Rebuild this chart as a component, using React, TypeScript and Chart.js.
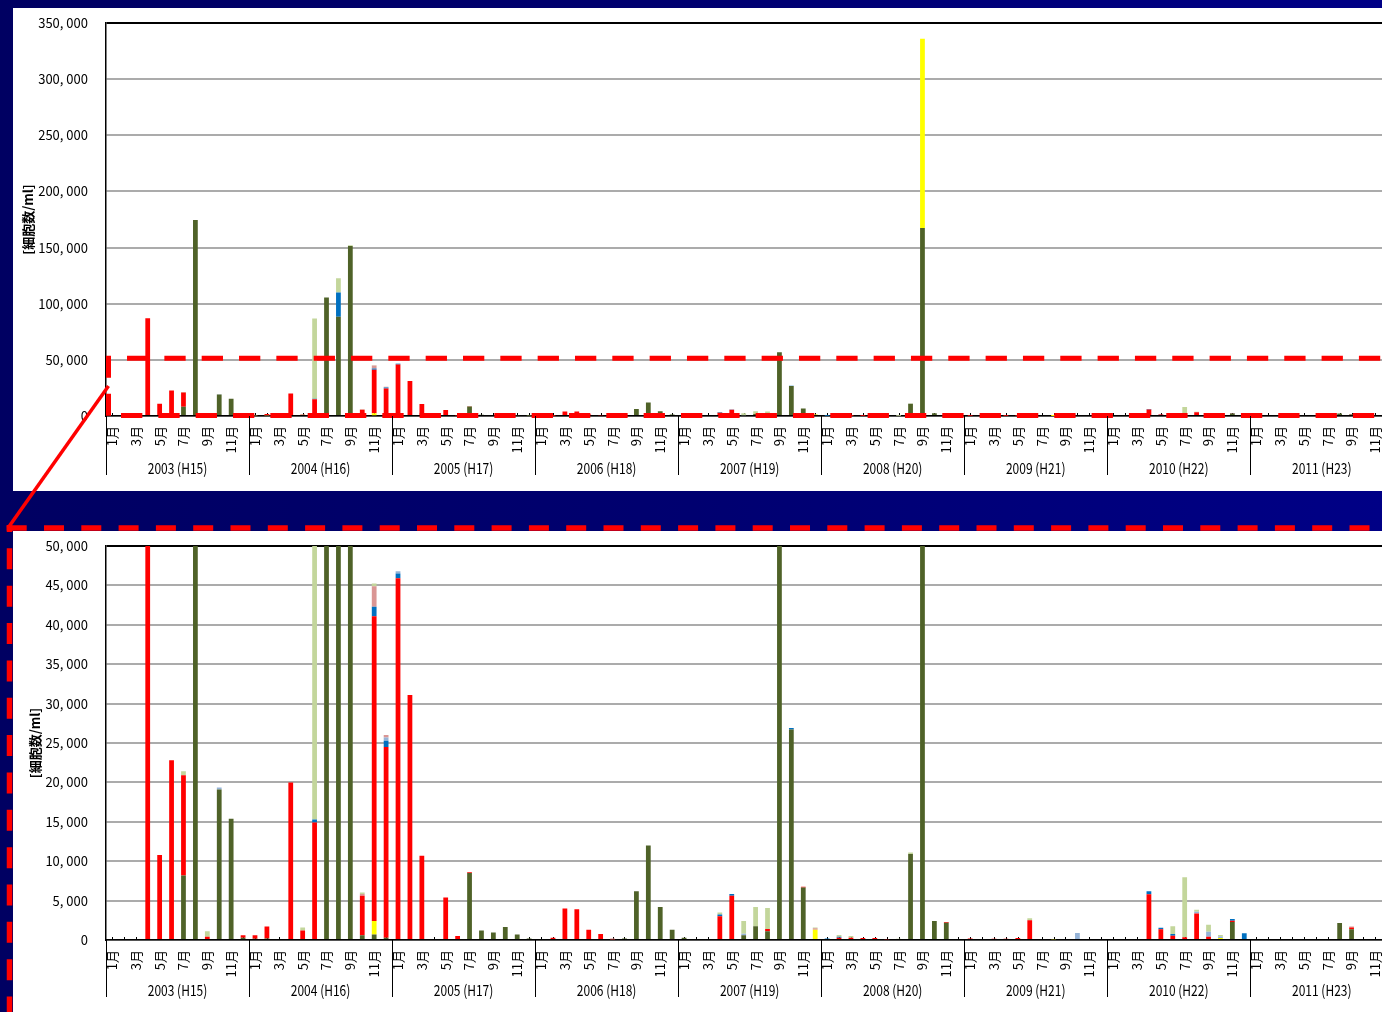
import React, { useEffect, useRef } from 'react';
import { Chart, registerables } from 'chart.js';

Chart.register(...registerables);

// ---------- data ----------
const YEARS = ['2003 (H15)', '2004 (H16)', '2005 (H17)', '2006 (H18)', '2007 (H19)', '2008 (H20)', '2009 (H21)', '2010 (H22)', '2011 (H23)'];
const MONTHS = ['1月', '2月', '3月', '4月', '5月', '6月', '7月', '8月', '9月', '10月', '11月', '12月'];
const CATEGORIES = YEARS.flatMap((y) => MONTHS.map((m) => `${y.slice(0, 4)}年${m}`));

const Y_TITLE = '[細胞数/ml]';
const TOP_MAX = 350000;
const TOP_STEP = 50000;
const ZOOM_MAX = 50000;
const ZOOM_STEP = 5000;
const THRESHOLD = 50000;

// one row per year, Jan..Dec  (cells/ml)
const DARK_GREEN = [
  0, 0, 0, 0, 0, 0, 8200, 174500, 0, 19100, 15400, 300,
  150, 200, 0, 0, 0, 0, 105500, 88500, 151500, 600, 700, 300,
  0, 0, 0, 0, 0, 0, 8500, 1200, 950, 1650, 700, 200,
  0, 0, 0, 0, 0, 0, 0, 200, 6200, 12000, 4200, 1300,
  300, 0, 0, 0, 0, 600, 1750, 1100, 56700, 26700, 6650, 0,
  0, 0, 0, 0, 0, 0, 0, 10900, 167500, 2400, 2200, 0,
  0, 0, 0, 0, 0, 0, 0, 0, 0, 0, 0, 0,
  0, 0, 0, 0, 0, 0, 0, 0, 0, 0, 2300, 0,
  0, 0, 0, 0, 0, 0, 0, 2150, 1350, 0, 0, 0,
];
const YELLOW = [
  0, 0, 0, 0, 0, 0, 0, 0, 0, 0, 0, 0,
  0, 0, 0, 0, 0, 0, 0, 0, 0, 0, 1700, 0,
  0, 0, 0, 0, 0, 0, 0, 0, 0, 0, 0, 0,
  0, 0, 0, 0, 0, 0, 0, 0, 0, 0, 0, 0,
  0, 0, 0, 0, 0, 0, 0, 0, 0, 0, 0, 1300,
  0, 0, 0, 0, 0, 0, 0, 0, 168500, 0, 0, 0,
  0, 0, 0, 0, 0, 0, 0, 100, 0, 0, 0, 0,
  0, 0, 0, 0, 0, 0, 0, 0, 0, 250, 0, 0,
  0, 0, 0, 0, 0, 0, 0, 0, 0, 0, 0, 0,
];
const RED = [
  0, 0, 0, 87000, 10800, 22800, 12700, 0, 400, 0, 0, 300,
  450, 1500, 0, 20000, 1200, 14900, 0, 0, 0, 5000, 38700, 24200,
  45900, 31100, 10700, 0, 5400, 500, 100, 0, 0, 0, 0, 0,
  0, 300, 4000, 3900, 1300, 750, 100, 0, 0, 0, 0, 0,
  0, 0, 0, 3000, 5600, 0, 0, 300, 0, 0, 100, 0,
  0, 300, 300, 250, 250, 100, 0, 0, 0, 0, 100, 0,
  200, 0, 150, 150, 250, 2500, 0, 0, 0, 0, 0, 0,
  0, 0, 0, 5800, 1350, 550, 350, 3350, 400, 0, 150, 0,
  0, 0, 0, 0, 0, 0, 0, 0, 250, 0, 0, 0,
];
const BLUE = [
  0, 0, 0, 0, 0, 0, 0, 0, 0, 0, 0, 0,
  0, 0, 0, 0, 0, 400, 0, 21400, 0, 0, 1200, 800,
  600, 0, 0, 0, 0, 0, 0, 0, 0, 0, 0, 0,
  0, 0, 0, 0, 0, 0, 0, 0, 0, 0, 0, 0,
  0, 0, 0, 250, 250, 0, 0, 0, 0, 200, 0, 0,
  200, 100, 0, 0, 0, 0, 0, 0, 0, 0, 0, 0,
  0, 0, 0, 0, 0, 0, 0, 0, 0, 0, 0, 0,
  0, 0, 0, 400, 200, 200, 0, 0, 0, 0, 200, 850,
  0, 0, 0, 0, 0, 0, 0, 0, 0, 0, 0, 0,
];
const LIGHT_BLUE = [
  0, 0, 0, 0, 0, 0, 0, 0, 0, 250, 0, 0,
  0, 0, 0, 0, 0, 0, 0, 0, 0, 0, 0, 400,
  300, 0, 0, 0, 0, 0, 0, 0, 0, 0, 0, 0,
  0, 0, 0, 0, 0, 0, 0, 0, 0, 0, 0, 0,
  0, 0, 0, 0, 0, 200, 0, 0, 0, 0, 0, 0,
  0, 0, 0, 0, 0, 0, 0, 0, 0, 0, 0, 0,
  0, 0, 0, 0, 0, 0, 0, 0, 0, 900, 0, 0,
  0, 0, 0, 0, 0, 0, 0, 250, 650, 200, 0, 0,
  0, 0, 0, 0, 0, 0, 0, 0, 0, 0, 0, 0,
];
const PINK = [
  0, 0, 0, 0, 0, 0, 0, 0, 0, 0, 0, 0,
  0, 0, 0, 0, 0, 0, 0, 0, 0, 250, 2600, 300,
  0, 0, 0, 0, 0, 0, 0, 0, 0, 0, 0, 0,
  0, 0, 0, 0, 0, 0, 100, 0, 0, 0, 0, 0,
  0, 0, 0, 0, 0, 0, 0, 0, 0, 0, 0, 200,
  0, 0, 0, 0, 0, 0, 0, 0, 0, 0, 0, 0,
  0, 0, 0, 0, 0, 0, 0, 0, 0, 0, 0, 0,
  0, 0, 0, 0, 0, 0, 0, 0, 0, 0, 0, 0,
  0, 0, 0, 0, 0, 0, 0, 0, 100, 0, 0, 0,
];
const LIGHT_GREEN = [
  0, 0, 0, 0, 0, 0, 500, 0, 700, 0, 0, 0,
  0, 0, 0, 0, 400, 71500, 0, 12800, 500, 170, 350, 0,
  0, 0, 0, 0, 0, 0, 0, 0, 0, 0, 0, 0,
  0, 0, 0, 0, 0, 0, 0, 0, 0, 0, 0, 0,
  0, 0, 0, 250, 0, 1600, 2450, 2650, 0, 0, 0, 100,
  0, 250, 200, 0, 0, 0, 150, 200, 0, 0, 0, 0,
  0, 0, 0, 0, 0, 250, 0, 0, 0, 0, 0, 0,
  0, 0, 0, 0, 0, 1000, 7600, 250, 900, 200, 0, 0,
  0, 0, 0, 0, 0, 0, 0, 0, 0, 0, 0, 0,
];

const SERIES = [
  { label: 'A', data: DARK_GREEN, color: '#4F6228' },
  { label: 'B', data: YELLOW, color: '#FFFF00' },
  { label: 'C', data: RED, color: '#FF0000' },
  { label: 'D', data: BLUE, color: '#0070C0' },
  { label: 'E', data: LIGHT_BLUE, color: '#95B3D7' },
  { label: 'F', data: PINK, color: '#DA9694' },
  { label: 'G', data: LIGHT_GREEN, color: '#C3D69B' },
];

const FONT = "'Noto Sans CJK JP', 'Noto Sans', sans-serif";

const fmt = (v: number) => (v === 0 ? '0' : v.toLocaleString('en-US').replace(',', ', '));

const yearAxisPlugin = {
  id: 'yearAxis',
  beforeDatasetsDraw(chart: any) {
    const { ctx, scales, chartArea } = chart;
    const x = scales.x;
    ctx.save();
    ctx.strokeStyle = '#000';
    ctx.lineWidth = 1;
    for (let i = 0; i < CATEGORIES.length; i++) {
      const px = Math.round(x.getPixelForValue(i)) + 0.5;
      ctx.beginPath();
      ctx.moveTo(px, chartArea.bottom - 3);
      ctx.lineTo(px, chartArea.bottom);
      ctx.stroke();
    }
    ctx.restore();
  },
  afterDraw(chart: any, _args: any, opts: any) {
    const { ctx, scales, chartArea } = chart;
    const x = scales.x;
    const bottom = chartArea.bottom;
    const slot = x.width / CATEGORIES.length;
    ctx.save();
    ctx.strokeStyle = '#000';
    ctx.lineWidth = 1;
    for (let k = 0; k <= YEARS.length; k++) {
      const i = k * 12;
      const px = Math.round(chartArea.left + i * slot) + 0.5;
      ctx.beginPath();
      ctx.moveTo(px, bottom);
      ctx.lineTo(px, bottom + opts.sepLength);
      ctx.stroke();
    }
    ctx.fillStyle = '#000';
    ctx.font = `15px ${FONT}`;
    ctx.textAlign = 'center';
    ctx.textBaseline = 'middle';
    YEARS.forEach((y, k) => {
      const cx = (x.getPixelForValue(k * 12) + x.getPixelForValue(k * 12 + 11)) / 2;
      ctx.save();
      ctx.translate(cx, bottom + opts.labelOffset);
      ctx.scale(0.8, 1);
      ctx.fillText(y, 0, 0);
      ctx.restore();
    });
    ctx.restore();
  },
};

const thresholdBoxPlugin = {
  id: 'thresholdBox',
  afterDatasetsDraw(chart: any, _args: any, opts: any) {
    if (!opts.show) return;
    const { ctx, chartArea, scales } = chart;
    const top = scales.y.getPixelForValue(THRESHOLD) - 1.5;
    const bottom = chartArea.bottom - 0.5;
    const left = chartArea.left + 2.5;
    ctx.save();
    ctx.strokeStyle = '#FF0000';
    ctx.lineWidth = 5;
    ctx.lineCap = 'butt';
    ctx.setLineDash([22, 16]);
    ctx.lineDashOffset = 0;
    ctx.beginPath();
    ctx.moveTo(left, top - 2.5);
    ctx.lineTo(left, bottom + 1.5);
    ctx.stroke();
    ctx.setLineDash([21.3, 16.03]);
    ctx.lineDashOffset = 21.3;
    ctx.beginPath();
    ctx.moveTo(left + 2.5, top);
    ctx.lineTo(chart.width, top);
    ctx.stroke();
    ctx.lineDashOffset = 27.3;
    ctx.beginPath();
    ctx.moveTo(left + 2.5, bottom);
    ctx.lineTo(chart.width, bottom);
    ctx.stroke();
    ctx.restore();
  },
};

interface PanelProps {
  max: number;
  step: number;
  top: number;
  height: number;
  titlePad: number;
  labelOffset: number;
  sepLength: number;
  showBox: boolean;
}

function Panel(p: PanelProps) {
  const ref = useRef<HTMLCanvasElement>(null);
  useEffect(() => {
    const chart = new Chart(ref.current as HTMLCanvasElement, {
      type: 'bar',
      data: {
        labels: CATEGORIES,
        datasets: SERIES.map((s) => ({
          label: s.label,
          data: s.data.slice(),
          backgroundColor: s.color,
          borderWidth: 0,
          barPercentage: 0.4,
          categoryPercentage: 1,
        })),
      },
      options: {
        animation: false,
        responsive: false,
        devicePixelRatio: 1,
        layout: { padding: { top: 15, right: 19, left: 0, bottom: 0 } },
        plugins: {
          legend: { display: false },
          tooltip: { enabled: false },
          yearAxis: { labelOffset: p.labelOffset, sepLength: p.sepLength },
          thresholdBox: { show: p.showBox },
        } as any,
        scales: {
          x: {
            stacked: true,
            offset: true,
            grid: { display: true, drawOnChartArea: false, drawTicks: false },
            border: { display: true, color: '#000', width: 1.5 },
            ticks: {
              autoSkip: false,
              minRotation: 90,
              maxRotation: 90,
              padding: 10,
              color: '#000',
              font: { size: 13, family: FONT },
              callback: (_v: any, i: number) => (i % 2 === 0 ? MONTHS[i % 12] : ''),
            },
            afterFit: (s: any) => {
              s.height = 75;
            },
          },
          y: {
            stacked: true,
            min: 0,
            max: p.max,
            grid: {
              drawTicks: true,
              tickLength: 14,
              tickColor: 'rgba(0,0,0,0)',
              lineWidth: 2,
              color: (c: any) => (c.tick && c.tick.value === p.max ? '#000000' : '#ababab'),
            },
            border: { display: true, color: '#000', width: 1.5 },
            ticks: {
              stepSize: p.step,
              padding: 4,
              color: '#000',
              font: { size: 13, family: FONT },
              callback: (v: any) => fmt(Number(v)),
            },
            title: {
              display: true,
              text: Y_TITLE,
              color: '#000',
              font: { size: 13, weight: 'bold', family: FONT },
              padding: { top: p.titlePad, bottom: 0 },
            },
            afterFit: (s: any) => {
              s.width = 93;
            },
          },
        },
      },
      plugins: [yearAxisPlugin, thresholdBoxPlugin],
    } as any);
    return () => chart.destroy();
  }, []);
  return (
    <canvas
      ref={ref}
      width={1400}
      height={p.height}
      style={{ position: 'absolute', left: 13, top: p.top, width: 1400, height: p.height, background: '#ffffff' }}
    />
  );
}

export default function App() {
  return (
    <div
      style={{
        position: 'absolute',
        left: 0,
        top: 0,
        width: 1382,
        height: 1012,
        overflow: 'hidden',
        background: 'linear-gradient(90deg, #000062 0%, #000070 50%, #000086 100%)',
      }}
    >
      <Panel max={TOP_MAX} step={TOP_STEP} top={8} height={483} titlePad={7.2} labelOffset={52} sepLength={59} showBox={true} />
      <Panel max={ZOOM_MAX} step={ZOOM_STEP} top={531} height={484} titlePad={14.2} labelOffset={50} sepLength={57} showBox={false} />
      <svg width={1382} height={1012} style={{ position: 'absolute', left: 0, top: 0, pointerEvents: 'none' }}>
        <line x1={108.5} y1={386} x2={8} y2={528} stroke="#FF0000" strokeWidth={3.5} />
        <line x1={6.7} y1={528} x2={1382} y2={528} stroke="#FF0000" strokeWidth={5.5} strokeDasharray="20 17.3" />
        <line x1={9.5} y1={525} x2={9.5} y2={1012} stroke="#FF0000" strokeWidth={5.5} strokeDasharray="21 16.35" strokeDashoffset={14} />
      </svg>
    </div>
  );
}
